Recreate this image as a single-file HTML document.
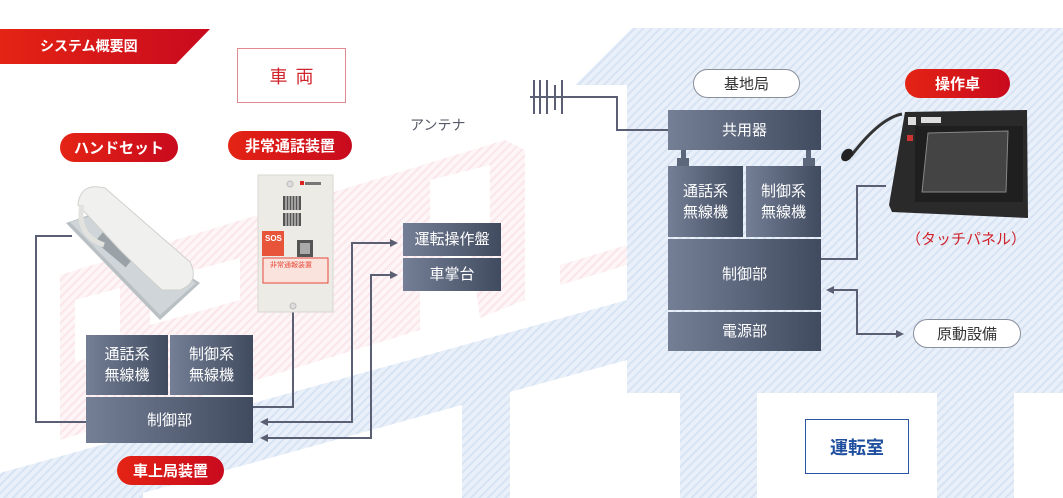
<!DOCTYPE html>
<html><head><meta charset="utf-8">
<style>
html,body{margin:0;padding:0;background:#fff;}
body{width:1063px;height:498px;position:relative;overflow:hidden;font-family:"Liberation Sans","Noto Sans CJK JP",sans-serif;}
.abs{position:absolute;box-sizing:border-box;}
.blk{position:absolute;box-sizing:border-box;background:linear-gradient(90deg,#747f96,#414b5f);color:#fff;font-size:15px;display:flex;align-items:center;justify-content:center;text-align:center;line-height:21px;}
.pill{position:absolute;box-sizing:border-box;border-radius:15px;background:linear-gradient(90deg,#e42414,#c80a1e);color:#fff;font-size:15px;font-weight:bold;display:flex;align-items:center;justify-content:center;}
.wpill{position:absolute;box-sizing:border-box;border-radius:15px;background:#fff;border:1px solid #8a8f9c;color:#333;font-size:15px;display:flex;align-items:center;justify-content:center;}
</style></head><body>
<svg class="abs" style="left:0;top:0" width="1063" height="498" viewBox="0 0 1063 498">
<defs>
<pattern id="hb" width="6" height="6" patternUnits="userSpaceOnUse" patternTransform="rotate(45)">
<rect width="6" height="6" fill="#e9f0f9"/><rect width="2" height="6" fill="#d7e3f3"/></pattern>
<pattern id="hp" width="6" height="6" patternUnits="userSpaceOnUse" patternTransform="rotate(45)">
<rect width="6" height="6" fill="#fdf5f6"/><rect width="2" height="6" fill="#fae6ea"/></pattern>
<linearGradient id="rg" x1="0" x2="1"><stop offset="0" stop-color="#e42414"/><stop offset="1" stop-color="#c80a1e"/></linearGradient>
</defs>
<polygon fill="url(#hb)" points="575,85 632,28 1063,28 1063,393 1014,393 1014,498 937,498 937,393 757,393 757,498 680,498 680,393 627,393 627,85"/>
<polygon fill="url(#hb)" points="0,473 627,300 627,360 510,392 510,498 462,498 462,405 143,493 143,498 0,498"/>
<g fill="url(#hp)">
<polygon points="60,275 505,140 525,150 525,300 480,318 470,250 420,265 420,330 60,440"/>
<polygon points="560,265 627,245 627,265 560,285"/>
</g>
<g fill="#fff">
<polygon points="75,300 120,288 120,350 75,362"/>
<polygon points="150,282 240,258 240,300 150,325"/>
<polygon points="430,180 490,165 490,230 430,245"/>
</g>
<polygon points="0,29 210,29 176,64 0,64" fill="url(#rg)"/>
<g fill="none" stroke="#5a5f73" stroke-width="2">
<polyline points="72,236 36,236 36,422 86,422"/>
<polyline points="293,312 293,407 253,407"/>
<polyline points="266,422 352,422 352,243 392,243"/>
<polyline points="266,438 371,438 371,275 392,275"/>
<polyline points="530,97 617,97 617,130 670,130"/>
<polyline points="821,259 857,259 857,186 886,186"/>
<polyline points="832,290 857,290 857,334 898,334"/>
<line x1="534" y1="80" x2="534" y2="114"/><line x1="540" y1="80" x2="540" y2="114"/>
<line x1="547" y1="80" x2="547" y2="114"/><line x1="555" y1="85" x2="555" y2="110"/>
<line x1="562" y1="80" x2="562" y2="114"/>
</g>
<g fill="#5a5f73">
<polygon points="260,422 268,418 268,426"/><polygon points="260,438 268,434 268,442"/>
<polygon points="398,243 390,239 390,247"/><polygon points="398,275 390,271 390,279"/>
<polygon points="826,290 834,286 834,294"/><polygon points="904,334 896,330 896,338"/>
</g>
<g fill="#5d677c"><rect x="681" y="150" width="5" height="8"/><rect x="677" y="158" width="12" height="8"/>
<rect x="806" y="150" width="5" height="8"/><rect x="803" y="158" width="12" height="8"/></g>
<!-- handset -->
<polygon points="66,223 92,214 200,283 160,320" fill="#b9c0c4"/>
<polygon points="70,222 92,216 196,283 160,315" fill="#cfd5d8"/>
<rect x="100" y="228" width="40" height="30" fill="#9aa2a8" transform="rotate(40 120 243)"/>
<path d="M78,205 Q80,182 105,188 L190,262 Q200,282 180,290 L162,290 Q140,270 120,250 Z" fill="#f0f0ee" stroke="#d0d0cc"/>
<path d="M82,205 Q76,235 104,245" fill="none" stroke="#e2e2de" stroke-width="5"/>
<!-- emergency device -->
<rect x="258" y="175" width="75" height="137" fill="#ecebe6" stroke="#d8d7d2"/>
<circle cx="290" cy="184" r="3" fill="#ddd" stroke="#bbb"/>
<rect x="300" y="181" width="4" height="4" fill="#d22"/><rect x="305" y="182" width="16" height="3" fill="#777"/>
<g fill="#555"><rect x="283" y="196" width="18" height="14"/><rect x="283" y="213" width="18" height="13"/></g>
<g stroke="#ecebe6" stroke-width="1"><line x1="286" y1="196" x2="286" y2="226"/><line x1="289" y1="196" x2="289" y2="226"/><line x1="292" y1="196" x2="292" y2="226"/><line x1="295" y1="196" x2="295" y2="226"/><line x1="298" y1="196" x2="298" y2="226"/></g>
<rect x="262" y="231" width="22" height="25" fill="#e8543a"/>
<text x="265" y="241" font-size="8" fill="#fff" font-weight="bold">SOS</text>
<rect x="297" y="240" width="16" height="17" fill="#555"/><rect x="300" y="243" width="10" height="11" fill="#aaa"/>
<rect x="263" y="258" width="65" height="25" fill="#fbe3dd" stroke="#e54a3a"/>
<text x="270" y="267" font-size="7" fill="#e54a3a">非常通報装置</text>
<circle cx="293" cy="306" r="3" fill="#ddd" stroke="#bbb"/>
<!-- console -->
<path d="M851,156 Q880,118 902,114" fill="none" stroke="#333" stroke-width="3"/>
<ellipse cx="847" cy="155" rx="5" ry="7" fill="#222" transform="rotate(40 847 155)"/>
<polygon points="905,112 1027,110 1028,218 892,212 889,205" fill="#2a2a2a"/>
<rect x="915" y="126" width="108" height="76" fill="#1f1f1f"/>
<polygon points="928,133 1008,131 1006,192 922,192" fill="#444" stroke="#888" stroke-width="1"/>
<rect x="908" y="117" width="8" height="8" fill="#ddd"/><rect x="921" y="117" width="20" height="6" fill="#ddd"/>
<rect x="907" y="135" width="6" height="6" fill="#c33"/>
</svg>

<div class="abs" style="left:40px;top:36px;color:#fff;font-size:14px;font-weight:bold;">システム概要図</div>
<div class="abs" style="left:237px;top:48px;width:109px;height:55px;border:1.5px solid #e08a90;color:#d0242c;font-size:18px;display:flex;align-items:center;justify-content:center;letter-spacing:8px;padding-left:8px;">車両</div>
<div class="abs" style="left:410px;top:115px;color:#555a66;font-size:14px;">アンテナ</div>
<div class="pill" style="left:60px;top:133px;width:118px;height:29px;">ハンドセット</div>
<div class="pill" style="left:228px;top:131px;width:124px;height:29px;">非常通話装置</div>
<div class="blk" style="left:403px;top:223px;width:98px;height:33px;">運転操作盤</div>
<div class="blk" style="left:403px;top:258px;width:98px;height:33px;">車掌台</div>
<div class="blk" style="left:86px;top:335px;width:82px;height:60px;">通話系<br>無線機</div>
<div class="blk" style="left:170px;top:335px;width:83px;height:60px;">制御系<br>無線機</div>
<div class="blk" style="left:86px;top:397px;width:167px;height:46px;">制御部</div>
<div class="pill" style="left:117px;top:456px;width:107px;height:29px;">車上局装置</div>

<div class="wpill" style="left:693px;top:69px;width:107px;height:29px;">基地局</div>
<div class="pill" style="left:905px;top:69px;width:105px;height:29px;">操作卓</div>
<div class="blk" style="left:668px;top:110px;width:153px;height:40px;">共用器</div>
<div class="blk" style="left:668px;top:166px;width:75px;height:71px;">通話系<br>無線機</div>
<div class="blk" style="left:746px;top:166px;width:75px;height:71px;">制御系<br>無線機</div>
<div class="blk" style="left:668px;top:239px;width:153px;height:71px;">制御部</div>
<div class="blk" style="left:668px;top:312px;width:153px;height:39px;">電源部</div>
<div class="abs" style="left:906px;top:228px;color:#d0242c;font-size:15px;">（タッチパネル）</div>
<div class="wpill" style="left:913px;top:319px;width:108px;height:29px;">原動設備</div>
<div class="abs" style="left:805px;top:419px;width:104px;height:55px;border:1.5px solid #2a55a0;background:#fff;color:#1f4f9e;font-size:18px;font-weight:bold;display:flex;align-items:center;justify-content:center;">運転室</div>
</body></html>
